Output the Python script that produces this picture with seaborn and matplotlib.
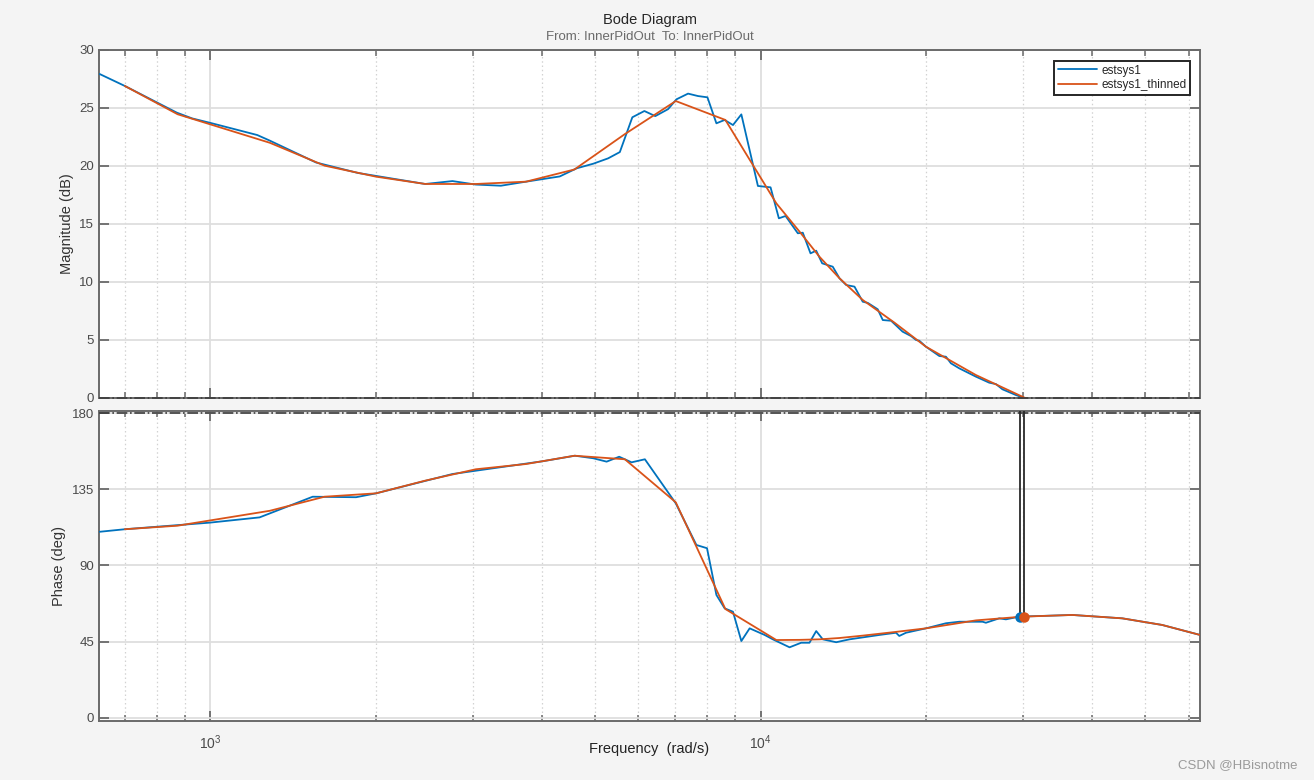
import numpy as np
import pandas as pd
import matplotlib
matplotlib.use("Agg")
import matplotlib.pyplot as plt
import seaborn as sns
from matplotlib.ticker import LogLocator, NullFormatter, FixedLocator, FixedFormatter

# ---------------- data ----------------
est_mag_freq = [630, 700, 870, 928, 1004, 1218, 1282, 1558, 1856, 2459, 2756, 3038, 3375, 3749,
                4317, 4633, 4968, 5285, 5550, 5848, 6150, 6437, 6790, 7034, 7383, 7697, 8006,
                8312, 8604, 8909, 9226, 9888, 10425, 10794, 11100, 11685, 11930, 12321, 12618,
                12937, 13522, 13910, 14304, 14810, 15330, 15655, 16320, 16670, 17260, 18110,
                18760, 19160, 19420, 19970, 21120, 21710, 22170, 22950, 24610, 26020, 26760,
                27500, 29080, 29900, 36840, 45400, 53630, 62832]
est_mag_db = [27.93, 26.9, 24.6, 24.1, 23.7, 22.67, 22.2, 20.3, 19.4, 18.45, 18.7, 18.4, 18.3, 18.65,
              19.1, 19.8, 20.2, 20.66, 21.2, 24.2, 24.74, 24.3, 24.9, 25.75, 26.24, 26.03, 25.92,
              23.68, 23.97, 23.53, 24.45, 18.28, 18.16, 15.49, 15.69, 14.2, 14.25, 12.47, 12.7,
              11.61, 11.32, 10.32, 9.74, 9.6, 8.3, 8.2, 7.65, 6.72, 6.66, 5.72,
              5.34, 5.0, 4.94, 4.42, 3.62, 3.56, 2.99, 2.56, 1.84, 1.32, 1.2,
              0.75, 0.26, 0.06, -1.9, -3.9, -5.5, -7.0]

est_phase_freq = [630, 700, 999, 1230, 1536, 1841, 2002, 2756, 4012, 4600, 4966, 5251, 5535, 5829,
                  6163, 7013, 7645, 7992, 8312, 8604, 8909, 9226, 9552, 10170, 10527, 11288, 11849,
                  12268, 12618, 12972, 13720, 14500, 16440, 17620, 17860, 18370, 19970, 21710,
                  22950, 25300, 25660, 27130, 27900, 29480, 36840, 45400, 53630, 62832]
est_phase_deg = [109.9, 111.4, 115.3, 118.4, 130.6, 130.3, 132.6, 144.0, 151.5, 154.8, 153.3, 151.3,
                 154.2, 150.9, 152.7, 126.7, 102.1, 100.2, 72.6, 64.7, 62.7, 45.4, 52.9, 49.0, 46.4,
                 41.7, 44.4, 44.4, 51.3, 46.4, 44.7, 46.4, 49.0, 50.3, 48.4, 50.3, 52.9, 55.9,
                 56.8, 56.8, 56.2, 58.8, 58.2, 59.8, 60.8, 58.8, 54.9, 49.0]

thin_freq = [700, 873, 1284, 1614, 2002, 2460, 3038, 3749, 4590, 5668, 7013, 8630, 10680, 11770,
             12790, 13910, 15330, 17500, 19970, 24610, 29900, 36840, 45400, 53630, 62832]
thin_mag_db = [26.9, 24.46, 22.0, 20.03, 19.08, 18.45, 18.45, 18.65, 19.7, 22.75, 25.6, 23.97, 16.78,
               14.34, 12.18, 10.32, 8.45, 6.5, 4.42, 1.98, 0.11, -1.9, -3.9, -5.5, -7.0]
thin_phase_deg = [111.4, 113.5, 122.3, 130.6, 132.6, 140.1, 146.8, 149.9, 154.8, 152.7, 127.3, 64.3,
                  46.0, 46.1, 46.4, 47.2, 48.6, 50.7, 52.9, 57.6, 59.8, 60.8, 58.8, 54.9, 49.0]

series_names = ["estsys1", "estsys1_thinned"]
margin_freq = [29550, 30100]
margin_phase = [59.6, 59.6]

title = "Bode Diagram"
subtitle = "From: InnerPidOut  To: InnerPidOut"
mag_label = "Magnitude (dB)"
phase_label = "Phase (deg)"
freq_label = "Frequency  (rad/s)"
mag_ticks = [0, 5, 10, 15, 20, 25, 30]
phase_ticks = [0, 45, 90, 135, 180]
watermark = "CSDN @HBisnotme"

# ---------------- style ----------------
sns.set_theme(style="white")
plt.rcParams['font.family'] = ['Liberation Sans', 'DejaVu Sans']
plt.rcParams['mathtext.fontset'] = 'custom'
plt.rcParams['mathtext.rm'] = 'Liberation Sans'
plt.rcParams['mathtext.it'] = 'Liberation Sans'

BLUE = '#0072BD'
ORANGE = '#D95319'
FRAME = '#6a6a6a'
TXT = '#4a4a4a'

fig = plt.figure(figsize=(13.14, 7.80), dpi=100, facecolor='#F4F4F4')
W, H = 1314, 780
def axrect(l, t, r, b):
    return [l / W, 1 - b / H, (r - l) / W, (b - t) / H]

ax1 = fig.add_axes(axrect(99, 50, 1200, 398))
ax2 = fig.add_axes(axrect(99, 411, 1200, 721))

df_est_mag = pd.DataFrame({'f': est_mag_freq, 'v': est_mag_db})
df_thin_mag = pd.DataFrame({'f': thin_freq, 'v': thin_mag_db})
df_est_ph = pd.DataFrame({'f': est_phase_freq, 'v': est_phase_deg})
df_thin_ph = pd.DataFrame({'f': thin_freq, 'v': thin_phase_deg})

for ax in (ax1, ax2):
    ax.set_facecolor('white')
    ax.set_xscale('log')
    ax.set_xlim(200 * np.pi, 20000 * np.pi)

sns.lineplot(data=df_est_mag, x='f', y='v', ax=ax1, color=BLUE, lw=1.3, sort=False,
             estimator=None, label=series_names[0], zorder=3)
sns.lineplot(data=df_thin_mag, x='f', y='v', ax=ax1, color=ORANGE, lw=1.3, sort=False,
             estimator=None, label=series_names[1], zorder=4)
sns.lineplot(data=df_est_ph, x='f', y='v', ax=ax2, color=BLUE, lw=1.3, sort=False,
             estimator=None, legend=False, zorder=3)
sns.lineplot(data=df_thin_ph, x='f', y='v', ax=ax2, color=ORANGE, lw=1.3, sort=False,
             estimator=None, legend=False, zorder=4)

ax1.set_ylim(0, 30)
ax2.set_ylim(-1.8, 181.2)

# reference dash-dot lines (0 dB and 180 deg)
ax1.axhline(0, color='#3c3c3c', lw=1.2, ls='-.', zorder=5, clip_on=False)
ax2.axhline(180, color='#3c3c3c', lw=1.2, ls='-.', zorder=5, clip_on=False)

# stability margin marker
for fq in margin_freq:
    ax2.plot([fq, fq], [margin_phase[0], 181.2], color='#2a2a2a', lw=1.3, zorder=5)
for fq, ph, c in zip(margin_freq, margin_phase, [BLUE, ORANGE]):
    ax2.plot([fq], [ph], marker='o', ms=6.5, color=c, mec=c, zorder=6, clip_on=False)

for ax in (ax1, ax2):
    ax.xaxis.set_major_locator(FixedLocator([1e3, 1e4]))
    ax.xaxis.set_minor_locator(LogLocator(base=10, subs=np.arange(2, 10), numticks=20))
    ax.xaxis.set_minor_formatter(NullFormatter())
    ax.grid(which='major', axis='both', color='#dedede', lw=1.3, ls='-', zorder=0)
    ax.grid(which='minor', axis='x', color='#d2d2d2', lw=0.9, ls=(0, (1.2, 2.2)), zorder=0)
    ax.set_axisbelow(True)
    for s in ax.spines.values():
        s.set_color(FRAME)
        s.set_linewidth(1.4)
    ax.tick_params(which='both', direction='in', top=True, right=True, bottom=True, left=True,
                   colors=FRAME, labelcolor=TXT, labelsize=9.5)
    ax.tick_params(which='major', length=7, width=1.3)
    ax.tick_params(which='minor', length=4, width=1.1)
    ax.set_xlabel('')
    ax.set_ylabel('')

ax1.set_yticks(mag_ticks)
ax1.set_yticklabels([str(t) for t in mag_ticks])
ax1.xaxis.set_major_formatter(NullFormatter())
ax2.set_yticks(phase_ticks)
ax2.set_yticklabels([str(t) for t in phase_ticks])
ax2.xaxis.set_major_formatter(FixedFormatter([r'$10^{3}$', r'$10^{4}$']))
ax2.tick_params(axis='x', which='major', pad=9, labelsize=10)

ax1.set_ylabel(mag_label, fontsize=10.5, color='#333333', labelpad=4)
ax2.set_ylabel(phase_label, fontsize=10.5, color='#333333', labelpad=4)
ax2.set_xlabel(freq_label, fontsize=10.5, color='#222222')
ax2.xaxis.set_label_coords(0.5, (721 - 742) / 310)

fig.text(650 / W, 1 - 20 / H, title, ha='center', va='center', fontsize=10.5, color='#262626')
fig.text(650 / W, 1 - 37 / H, subtitle, ha='center', va='center', fontsize=9.5, color='#6a6a6a')

leg = ax1.legend(loc='upper right', bbox_to_anchor=((1190 - 99) / 1101, (398 - 61) / 348),
                 borderaxespad=0, fontsize=8.5, frameon=True, fancybox=False, framealpha=1,
                 edgecolor='#262626', handlelength=3.3, handletextpad=0.4, borderpad=0.3,
                 labelspacing=0.25)
leg.get_frame().set_linewidth(1.4)
for t in leg.get_texts():
    t.set_color('#262626')

fig.text(1298 / W, 1 - 765 / H, watermark, ha='right', va='center', fontsize=9.5, color='#9a9a9a')

fig.savefig('out.png', dpi=100, facecolor=fig.get_facecolor())
